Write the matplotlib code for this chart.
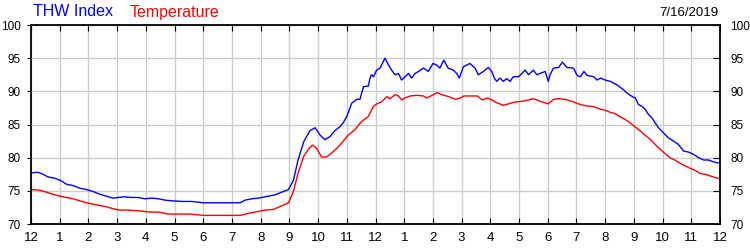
import matplotlib
matplotlib.use("Agg")
import matplotlib.pyplot as plt

# hours since midnight
thw_hours = [0.0, 0.24, 0.42, 0.59, 0.83, 1.06, 1.23, 1.46, 1.7, 1.93, 2.16, 2.39, 2.63, 2.86,
             3.03, 3.27, 3.5, 3.73, 3.96, 4.2, 4.44, 4.67, 4.9, 5.25, 5.6, 6.0, 6.41, 6.88, 7.28,
             7.46, 7.69, 7.92, 8.15, 8.5, 8.97, 9.14, 9.3, 9.5, 9.72, 9.9, 10.07, 10.24, 10.42,
             10.59, 10.77, 10.88, 11.0, 11.17, 11.35, 11.46, 11.58, 11.75, 11.81, 11.86, 11.93,
             12.04, 12.16, 12.33, 12.45, 12.56, 12.68, 12.8, 12.91, 13.03, 13.15, 13.26, 13.38,
             13.5, 13.67, 13.84, 14.0, 14.12, 14.24, 14.38, 14.53, 14.71, 14.83, 14.92, 15.06,
             15.29, 15.47, 15.58, 15.76, 15.93, 16.05, 16.14, 16.22, 16.34, 16.45, 16.57, 16.69,
             16.8, 16.98, 17.1, 17.21, 17.33, 17.5, 17.62, 17.74, 17.91, 18.02, 18.08, 18.2,
             18.38, 18.51, 18.67, 18.9, 19.02, 19.14, 19.26, 19.37, 19.6, 19.72, 19.84, 20.0,
             20.18, 20.4, 20.64, 20.76, 20.93, 21.05, 21.16, 21.28, 21.4, 21.51, 21.63, 21.74,
             21.86, 22.03, 22.2, 22.38, 22.55, 22.73, 22.9, 23.08, 23.25, 23.43, 23.6, 23.78, 24.0]
thw_index = [77.7, 77.8, 77.5, 77.1, 76.9, 76.5, 76.0, 75.8, 75.4, 75.2, 74.9, 74.5, 74.2, 73.9,
             74.0, 74.1, 74.0, 74.0, 73.8, 73.9, 73.8, 73.6, 73.5, 73.4, 73.4, 73.2, 73.2, 73.2, 73.2,
             73.6, 73.8, 73.9, 74.1, 74.4, 75.2, 76.6, 79.6, 82.4, 84.1, 84.5, 83.4, 82.7, 83.2,
             84.1, 84.7, 85.3, 86.2, 88.2, 88.8, 88.8, 90.7, 90.8, 92.0, 92.5, 92.2,
             93.2, 93.5, 95.0, 94.0, 93.2, 92.5, 92.7, 91.7, 92.2, 92.7, 92.0, 92.7,
             93.0, 93.5, 93.0, 94.2, 94.0, 93.5, 94.7, 93.5, 93.2, 92.7, 92.0, 93.7,
             94.2, 93.5, 92.5, 93.0, 93.6, 93.0, 92.0, 91.5, 92.0, 91.5, 91.9, 91.5,
             92.2, 92.2, 92.7, 93.2, 92.5, 93.2, 92.5, 92.7, 93.0, 91.5, 92.5, 93.5,
             93.6, 94.4, 93.6, 93.5, 92.4, 92.2, 93.0, 92.4, 92.2, 91.7, 92.0, 91.7,
             91.5, 91.0, 90.25, 89.75, 89.25, 89.0, 88.0, 87.75, 87.25, 86.5, 86.0, 85.25,
             84.5, 83.75, 83.0, 82.5, 82.0, 81.0, 80.85, 80.5, 80.0, 79.65, 79.65, 79.35, 79.15]

temp_hours = [0.0, 0.3, 0.53, 0.76, 1.0, 1.23, 1.46, 1.7, 1.93, 2.16, 2.39, 2.63, 2.86, 3.09,
              3.38, 3.67, 3.96, 4.13, 4.44, 4.79, 5.13, 5.54, 6.0, 6.5, 7.0, 7.3, 7.57, 7.92,
              8.15, 8.45, 8.97, 9.14, 9.3, 9.5, 9.67, 9.8, 9.95, 10.12, 10.3, 10.47, 10.65,
              10.82, 11.05, 11.28, 11.5, 11.75, 11.92, 12.04, 12.21, 12.39, 12.51, 12.68, 12.8,
              12.91, 13.03, 13.21, 13.44, 13.67, 13.79, 13.97, 14.14, 14.31, 14.55, 14.79, 14.96,
              15.08, 15.55, 15.72, 15.9, 16.07, 16.16, 16.45, 16.63, 16.86, 17.1, 17.33, 17.5,
              17.74, 18.02, 18.2, 18.38, 18.61, 18.9, 19.14, 19.37, 19.6, 19.84, 20.0, 20.17,
              20.35, 20.52, 20.7, 20.87, 21.05, 21.23, 21.4, 21.57, 21.74, 21.92, 22.09, 22.26,
              22.44, 22.61, 22.79, 22.96, 23.13, 23.31, 23.48, 23.66, 23.83, 24.0]
temperature = [75.2, 75.1, 74.8, 74.5, 74.2, 74.0, 73.8, 73.5, 73.2, 73.0, 72.8, 72.6, 72.3, 72.1,
               72.1, 72.0, 71.9, 71.8, 71.8, 71.5, 71.5, 71.5, 71.3, 71.3, 71.3, 71.3, 71.6, 71.9,
               72.1, 72.2, 73.2, 74.9, 77.6, 80.2, 81.3, 81.9, 81.4, 80.1, 80.1, 80.7, 81.4,
               82.2, 83.4, 84.2, 85.4, 86.2, 87.7, 88.1, 88.4, 89.2, 88.9, 89.5, 89.3,
               88.7, 89.0, 89.3, 89.4, 89.3, 89.0, 89.4, 89.8, 89.5, 89.2, 88.8, 89.0,
               89.3, 89.3, 88.7, 89.0, 88.7, 88.4, 87.9, 88.1, 88.4, 88.5, 88.7, 88.9,
               88.5, 88.1, 88.8, 88.9, 88.8, 88.4, 88.0, 87.8, 87.7, 87.3, 87.15, 86.85,
               86.65, 86.15, 85.75, 85.25, 84.6, 84.0, 83.35, 82.75, 82.0, 81.25, 80.6, 80.0,
               79.6, 79.15, 78.75, 78.4, 78.1, 77.6, 77.5, 77.25, 77.0, 76.85]

hour_labels = ['12', '1', '2', '3', '4', '5', '6', '7', '8', '9', '10', '11',
               '12', '1', '2', '3', '4', '5', '6', '7', '8', '9', '10', '11', '12']
y_ticks = [70, 75, 80, 85, 90, 95, 100]

plt.rcParams['font.family'] = ['Liberation Sans', 'DejaVu Sans']
fig = plt.figure(figsize=(7.5, 2.5), dpi=100)
ax = fig.add_axes([31 / 750, 26 / 250, 689 / 750, 199 / 250])

ax.plot(thw_hours, thw_index, color='#0000ff', lw=1.0)
ax.plot(temp_hours, temperature, color='#ff0000', lw=1.0)

ax.set_xlim(0, 24)
ax.set_ylim(70, 100)
ax.set_xticks(range(25))
ax.set_xticklabels(hour_labels)
ax.set_yticks(y_ticks)
ax.grid(True, color='#cccccc', lw=1)
ax.set_axisbelow(True)
for s in ax.spines.values():
    s.set_linewidth(1.3)

ax.tick_params(axis='x', direction='in', length=4, top=True, labelsize=9.5, pad=6)
ax.tick_params(axis='y', which='both', left=True, right=True, labelleft=True, labelright=True,
               labelsize=8.5, pad=4)
for t in ax.yaxis.get_major_ticks():
    t.tick1line.set_markersize(3)
    t.tick2line.set_markersize(5)
    t.tick2line.set_marker(matplotlib.lines.TICKLEFT)

fig.text(33 / 750, 1 - 12 / 250, 'THW Index', color='#0000ff', fontsize=11.5, va='center')
fig.text(130 / 750, 1 - 12 / 250, 'Temperature', color='#ff0000', fontsize=11.5, va='center')
fig.text(718 / 750, 1 - 13 / 250, '7/16/2019', color='black', fontsize=9.5, va='center', ha='right')

fig.savefig('out.png', dpi=100)
